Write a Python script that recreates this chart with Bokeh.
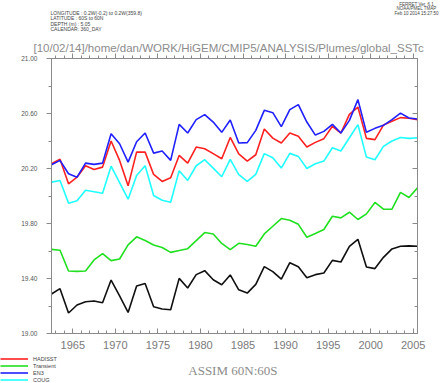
from bokeh.plotting import figure
from bokeh.layouts import column
from bokeh.models import (Range1d, FixedTicker, LinearAxis, PrintfTickFormatter,
                          Label, Legend, LegendItem, Title)
from bokeh.embed import file_html
from bokeh.resources import INLINE

years = list(range(1962, 2006))

hadisst = [20.235, 20.268, 20.089, 20.137, 20.220, 20.193, 20.210, 20.400, 20.259, 20.074,
           20.319, 20.319, 20.157, 20.106, 20.133, 20.295, 20.239, 20.356, 20.344, 20.308,
           20.271, 20.426, 20.306, 20.254, 20.300, 20.487, 20.421, 20.385, 20.458, 20.434,
           20.356, 20.390, 20.417, 20.507, 20.458, 20.594, 20.647, 20.419, 20.410, 20.516,
           20.543, 20.570, 20.565, 20.555]
transient = [19.612, 19.605, 19.455, 19.452, 19.455, 19.535, 19.581, 19.530, 19.542, 19.644,
             19.703, 19.676, 19.644, 19.625, 19.590, 19.603, 19.617, 19.676, 19.734, 19.724,
             19.655, 19.610, 19.656, 19.647, 19.634, 19.724, 19.780, 19.836, 19.824, 19.794,
             19.700, 19.727, 19.756, 19.853, 19.841, 19.882, 19.829, 19.870, 19.953, 19.904,
             19.904, 20.026, 19.989, 20.060]
en3 = [20.227, 20.259, 20.162, 20.137, 20.239, 20.230, 20.239, 20.453, 20.380, 20.246,
       20.395, 20.458, 20.312, 20.327, 20.259, 20.521, 20.458, 20.555, 20.592, 20.538,
       20.463, 20.553, 20.385, 20.388, 20.477, 20.623, 20.606, 20.504, 20.628, 20.665,
       20.538, 20.443, 20.470, 20.521, 20.458, 20.550, 20.701, 20.463, 20.492, 20.514,
       20.555, 20.603, 20.567, 20.560]
coug = [20.101, 20.113, 19.948, 19.965, 20.042, 20.031, 20.020, 20.217, 20.098, 19.977,
        20.149, 20.220, 20.004, 19.969, 19.955, 20.184, 20.113, 20.220, 20.264, 20.203,
        20.140, 20.266, 20.155, 20.106, 20.157, 20.308, 20.278, 20.203, 20.310, 20.288,
        20.200, 20.235, 20.254, 20.351, 20.327, 20.424, 20.519, 20.283, 20.264, 20.361,
        20.400, 20.426, 20.419, 20.424]
assim = [19.287, 19.326, 19.149, 19.207, 19.231, 19.236, 19.224, 19.389, 19.273, 19.153,
         19.345, 19.364, 19.195, 19.178, 19.173, 19.401, 19.331, 19.428, 19.457, 19.391,
         19.355, 19.426, 19.318, 19.294, 19.357, 19.486, 19.450, 19.396, 19.515, 19.486,
         19.406, 19.428, 19.440, 19.532, 19.520, 19.634, 19.685, 19.484, 19.472, 19.554,
         19.615, 19.634, 19.637, 19.634]

x_major = [1965, 1970, 1975, 1980, 1985, 1990, 1995, 2000, 2005]
x_minor = list(range(1963, 2006))
y_major = [19.0, 19.4, 19.8, 20.2, 20.6, 21.0]
y_minor = [19.2, 19.6, 20.0, 20.4, 20.8]

series_names = ["HADISST", "Transient", "EN3", "COUG"]
series_colors = ["#ff2020", "#20e020", "#2020ff", "#20ffff"]

W, H = 441, 383
HT = 32          # header strip height
HB = 30          # legend strip height
FL, FR, FT, FB = 51, 417, 58, 333   # frame edges in page pixels
FONT = "Liberation Sans"
AX = "#8a8a8a"

xs = [y + 0.5 for y in years]


def strip(height):
    s = figure(width=W, height=height, output_backend="svg", toolbar_location=None,
               x_range=Range1d(0, 1), y_range=Range1d(0, 1),
               x_axis_location=None, y_axis_location=None, min_border=0)
    s.grid.visible = False
    s.outline_line_color = None
    s.background_fill_color = "white"
    s.border_fill_color = "white"
    try:
        s.frame_align = False
    except Exception:
        pass
    return s


def lab(fig, top_px, txt, px, py, size, h, color="#444444", align="left", font=FONT):
    # px, py: page pixels; fig starts at page y = top_px and its frame fills the canvas
    fig.add_layout(Label(x=px, y=h - (py - top_px), x_units="screen", y_units="screen",
                         text=txt, text_font=font, text_font_size=size, text_color=color,
                         text_align=align, text_baseline="middle"))


# ---- header strip ----
head = strip(HT)
lab(head, 0, "LONGITUDE : 0.2W(-0.2) to 0.2W(359.8)", 50, 12, "5px", HT)
lab(head, 0, "LATITUDE : 60S to 60N", 50, 17.5, "5px", HT)
lab(head, 0, "DEPTH (m) : 5.05", 50, 23.3, "5px", HT)
lab(head, 0, "CALENDAR: 360_DAY", 50, 28.8, "5px", HT)
lab(head, 0, "FERRET Ver. 6.1", 416, 3.5, "4.5px", HT, align="center")
lab(head, 0, "NOAA/PMEL TMAP", 416, 8, "4.5px", HT, align="center")
lab(head, 0, "Feb 10 2014 15:27:50", 416, 12.5, "4.5px", HT, align="center")

# ---- main chart ----
MH = 353 - HT
p = figure(width=W, height=MH, output_backend="svg", toolbar_location=None,
           x_range=Range1d(1962.5, 2005.5), y_range=Range1d(19.0, 21.0),
           x_axis_location=None, y_axis_location=None,
           min_border_left=FL, min_border_right=W - FR, min_border_top=FT - HT,
           min_border_bottom=353 - FB)
p.grid.visible = False
p.outline_line_color = AX
p.background_fill_color = "white"
p.border_fill_color = "white"


def xt():
    return FixedTicker(ticks=x_major, minor_ticks=x_minor)


def yt():
    return FixedTicker(ticks=y_major, minor_ticks=y_minor)


bottom = LinearAxis(ticker=xt(), major_tick_in=5, major_tick_out=0, minor_tick_in=3, minor_tick_out=0,
                    axis_line_color=AX, major_tick_line_color=AX, minor_tick_line_color=AX,
                    major_label_text_font=FONT, major_label_text_font_size="11px",
                    major_label_text_color="#7a7a7a", major_label_standoff=7)
top = LinearAxis(ticker=xt(), major_tick_in=0, major_tick_out=5, minor_tick_in=0, minor_tick_out=3,
                 axis_line_color=AX, major_tick_line_color=AX, minor_tick_line_color=AX,
                 major_label_text_font=FONT, major_label_text_font_size="6px",
                 major_label_text_alpha=0, major_label_standoff=0)
left = LinearAxis(ticker=yt(), major_tick_in=0, major_tick_out=5, minor_tick_in=0, minor_tick_out=3,
                  axis_line_color=AX, major_tick_line_color=AX, minor_tick_line_color=AX,
                  formatter=PrintfTickFormatter(format="%.2f"),
                  major_label_text_font=FONT, major_label_text_font_size="6.5px",
                  major_label_text_color="#555555", major_label_standoff=9)
right = LinearAxis(ticker=yt(), major_tick_in=5, major_tick_out=0, minor_tick_in=3, minor_tick_out=0,
                   axis_line_color=AX, major_tick_line_color=AX, minor_tick_line_color=AX,
                   major_label_text_font=FONT, major_label_text_font_size="5px",
                   major_label_text_alpha=0, major_label_standoff=1)
p.add_layout(bottom, "below")
p.add_layout(left, "left")
p.add_layout(top, "above")
p.add_layout(right, "right")

all_series = [hadisst, transient, en3, coug]
for vals, col in zip(all_series, series_colors):
    p.line(xs, vals, line_color=col, line_width=1.6)
p.line(xs, assim, line_color="#101010", line_width=1.6)

p.add_layout(Title(text="[10/02/14]/home/dan/WORK/HiGEM/CMIP5/ANALYSIS/Plumes/global_SSTc",
                   align="left", offset=-18, text_font=FONT, text_font_size="11.5px",
                   text_font_style="normal", text_color="#8c8c8c", standoff=0), "above")

# ---- legend / caption strip ----
foot = strip(HB)
# same series drawn in the strip (outside its visible range) only to provide legend keys
keys = [foot.line(xs, vals, line_color=c, line_width=1.6)
        for vals, c in zip(all_series, series_colors)]
legend = Legend(items=[LegendItem(label=n, renderers=[r]) for n, r in zip(series_names, keys)],
                location=(0, 0), orientation="vertical",
                background_fill_alpha=0, border_line_color=None,
                padding=0, margin=0, spacing=0,
                glyph_width=28, glyph_height=7, label_height=7, label_standoff=5,
                label_text_font=FONT, label_text_font_size="5.5px", label_text_color="#444444")
foot.add_layout(legend, "center")
lab(foot, 353, "ASSIM  60N:60S", 234, 370, "13px", HB, color="#8c8c8c", align="center",
    font="Liberation Serif")

layout = column(head, p, foot, spacing=0)
open("out.html", "w").write(file_html(layout, INLINE))
